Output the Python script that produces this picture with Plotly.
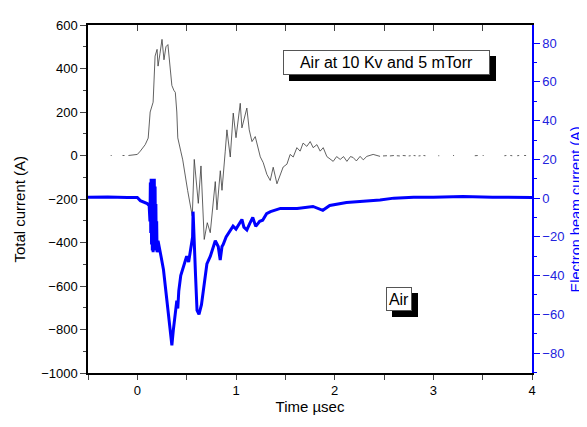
import plotly.graph_objects as go

# ---- data ----
total_t = [-0.09, 0.0, 0.03, 0.08, 0.11, 0.13, 0.16, 0.18, 0.20, 0.21, 0.23, 0.25, 0.27, 0.29, 0.31,
           0.33, 0.35, 0.37, 0.385, 0.40, 0.41, 0.44, 0.46, 0.51, 0.557, 0.577, 0.618, 0.645, 0.678,
           0.709, 0.739, 0.79, 0.807, 0.841, 0.858, 0.891, 0.908, 0.942, 0.972, 1.0, 1.043, 1.06,
           1.11, 1.134, 1.162, 1.195, 1.246, 1.276, 1.313, 1.347, 1.377, 1.415, 1.448, 1.478, 1.516,
           1.549, 1.58, 1.617, 1.65, 1.68, 1.718, 1.752, 1.782, 1.82, 1.853, 1.884, 1.921, 1.985,
           2.02, 2.056, 2.09, 2.124, 2.16, 2.187, 2.22, 2.258, 2.29, 2.326, 2.39, 2.46]
total_v = [0, 5, 20, 50, 80, 200, 245, 457, 488, 411, 470, 534, 440, 500, 510,
           427, 322, 300, 290, 200, 81, 20, -20, -161, -279, -18, -220, -48, -386,
           -309, -355, -120, -250, -70, -160, 20, 118, -7, 195, 82, 240, 127,
           218, 118, 64, 87, -6, -33, -87, -115, -54, -130, -85, -53, -40,
           5, -7, 36, 20, 57, 42, 64, 36, 50, 20, 36, -5, -27,
           -5, -18, -5, -27, -5, -9, -25, -4, -20, -4, 5, -4]

# sparse dotted parts of the total current record (None = gap)
tail_t = [-0.27, -0.26, None, -0.15, -0.13, None,
          2.49, 2.53, None, 2.56, 2.60, None, 2.63, 2.66, None, 2.69, 2.72, None,
          2.75, 2.77, None, 2.80, 2.82, None, 2.85, 2.87, None, 2.90, 2.92, None,
          3.05, 3.06, None, 3.20, 3.21, None, 3.42, 3.45, None, 3.50, 3.51, None,
          3.72, 3.74, None, 3.78, 3.80, None, 3.85, 3.87, None, 3.92, 3.94]
tail_v = [0, 0, None, 0, 0, None,
          -2, -1, None, -2, 0, None, -1, -2, None, 0, -1, None,
          -2, -1, None, 0, -1, None, -2, -1, None, 0, -1, None,
          -1, -1, None, 0, 0, None, -1, 0, None, 0, 0, None,
          -1, 0, None, 0, -1, None, -1, 0, None, 0, 0]

beam_t = [-0.5, -0.3, -0.1, 0.0, 0.03, 0.07, 0.10, 0.12, 0.128, 0.132, 0.136, 0.140, 0.144, 0.148,
          0.152, 0.156, 0.160, 0.164, 0.168, 0.172, 0.176, 0.180, 0.184, 0.188, 0.192, 0.196,
          0.20, 0.21, 0.24, 0.265, 0.30,
          0.335, 0.35, 0.365, 0.385, 0.40, 0.41, 0.42, 0.44, 0.46, 0.50, 0.52, 0.56, 0.565,
          0.575, 0.59, 0.605, 0.625, 0.65, 0.67, 0.69, 0.705, 0.74, 0.79, 0.82, 0.84, 0.858,
          0.87, 0.90, 0.94, 0.97, 1.0, 1.04, 1.06, 1.08, 1.11, 1.14, 1.17, 1.2, 1.24, 1.27, 1.31,
          1.35, 1.45, 1.62, 1.78, 1.88, 1.95, 2.12, 2.28, 2.46, 2.6, 2.8, 3.0, 3.3, 3.6, 4.0]
beam_v = [0.5, 0.6, 0.3, 0.3, -1.3, -2, -2.8, -4, -12, 8, -18, 10, -24, 10, -27, 10,
          -28, 9, -22, 10, -27, 6, -25, -3, -26, -12,
          -28, -22, -30, -37, -53,
          -70, -76, -68, -58, -53, -57, -48, -40, -37, -30, -33, -20, -7,
          -23, -40, -58, -60, -55, -47, -42, -34, -30, -22, -25, -32, -25,
          -24, -20, -16.5, -14.5, -16, -13, -11, -15, -16.4, -13, -10, -14.6, -12, -11.4, -8,
          -7, -5.3, -5.3, -4.3, -6.3, -3.8, -2.3, -1.8, -1.0, 0, 0.5, 0.5, 0.8, 0.5, 0.3]

x_range = [-0.5, 4]
left_range = [-1000, 600]
right_range = [-90.3, 89.4]

FONT = "Liberation Sans, Arial, sans-serif"

fig = go.Figure()
fig.add_trace(go.Scatter(x=total_t, y=total_v, mode="lines",
                         line=dict(color="#3a3a3a", width=0.8), yaxis="y", showlegend=False))
fig.add_trace(go.Scatter(x=tail_t, y=tail_v, mode="lines", connectgaps=False,
                         line=dict(color="#3a3a3a", width=0.8), yaxis="y", showlegend=False))
fig.add_trace(go.Scatter(x=beam_t, y=beam_v, mode="lines",
                         line=dict(color="#0000ff", width=3), yaxis="y2", showlegend=False))
# helper so the top (inside-tick) axis is drawn
fig.add_trace(go.Scatter(x=[None], y=[None], xaxis="x2", yaxis="y", showlegend=False))

annotations = []
for txt, tx, ty, w, h in [("Air at 10 Kv and 5 mTorr", 2.527, 427.5, 203, 21),
                          ("Air", 2.65, -660, 22, 20)]:
    # drop shadow box (blank text)
    annotations.append(dict(x=tx, y=ty, xref="x", yref="y", text=" ", showarrow=False,
                            font=dict(family=FONT, size=16, color="black"),
                            bgcolor="black", bordercolor="black", borderwidth=1, borderpad=1,
                            width=w, height=h, xshift=6, yshift=-6))
    annotations.append(dict(x=tx, y=ty, xref="x", yref="y", text=txt, showarrow=False,
                            font=dict(family=FONT, size=16, color="black"),
                            bgcolor="white", bordercolor="#555555", borderwidth=1, borderpad=1,
                            width=w, height=h))
annotations.append(dict(x=-0.155, y=0.47, xref="paper", yref="paper", text="Total current (A)",
                        xanchor="center", yanchor="middle",
                        textangle=-90, showarrow=False, font=dict(family=FONT, size=15, color="black")))
annotations.append(dict(x=1.099, y=0.47, xref="paper", yref="paper", text="Electron beam current (A)",
                        xanchor="center", yanchor="middle",
                        textangle=-90, showarrow=False, font=dict(family=FONT, size=14.5, color="#0000ff")))

fig.update_layout(
    width=579, height=419,
    margin=dict(l=80, r=55, t=10, b=54),
    paper_bgcolor="white", plot_bgcolor="white",
    font=dict(family=FONT, size=13, color="black"),
    showlegend=False,
    xaxis=dict(range=x_range, dtick=1, tick0=0, ticks="outside", ticklen=5, tickwidth=1.2,
               minor=dict(dtick=0.5, tick0=0, ticks="outside", ticklen=5, tickwidth=1.2),
               showline=True, linecolor="black", linewidth=1.5, showgrid=False, zeroline=False,
               tickfont=dict(size=13), title=dict(text="Time \u00b5sec", font=dict(size=15), standoff=4)),
    xaxis2=dict(range=x_range, overlaying="x", side="top", dtick=0.5, tick0=0, ticks="inside",
                ticklen=6, tickwidth=1.2, showticklabels=False, showline=True, linecolor="black",
                linewidth=1.5, showgrid=False, zeroline=False),
    yaxis=dict(range=left_range, dtick=200, tick0=0, ticks="outside", ticklen=6, tickwidth=1.2,
               minor=dict(dtick=100, tick0=0, ticks="outside", ticklen=3, tickwidth=1.2),
               showline=True, linecolor="black", linewidth=1.5, showgrid=False, zeroline=False,
               tickfont=dict(size=13)),
    yaxis2=dict(range=right_range, overlaying="y", side="right", dtick=20, tick0=0,
                ticks="outside", ticklen=6, tickwidth=1.2, tickcolor="#0000ff",
                minor=dict(dtick=10, tick0=0, ticks="outside", ticklen=3, tickwidth=1.2, tickcolor="#0000ff"),
                showline=True, linecolor="#0000ff", linewidth=1.5, showgrid=False, zeroline=False,
                tickfont=dict(size=13, color="#2222dd")),
    annotations=annotations,
)

fig.write_html("out.html")
